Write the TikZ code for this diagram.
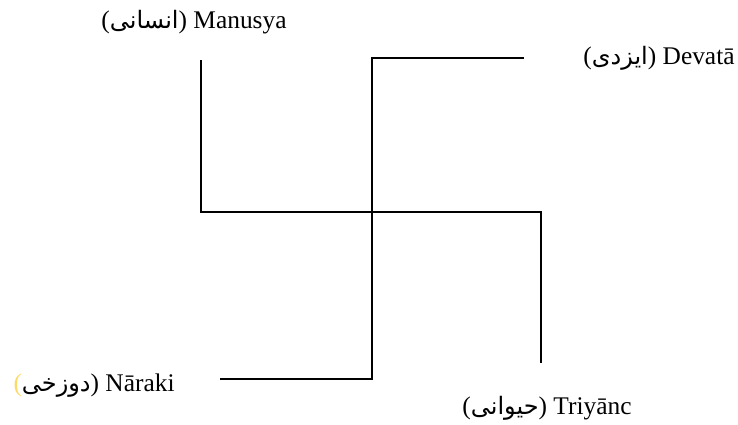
\documentclass[tikz,border=0pt]{standalone}
\usepackage{fontspec}
\setmainfont{Liberation Serif}
\newfontfamily\arabicfont[Script=Arabic]{DejaVu Sans}
\TeXXeTstate=1

\begin{document}
\begin{tikzpicture}[
  x=0.5pt, y=-0.5pt,
  font=\fontsize{12.7}{15}\selectfont,
  arm/.style={line width=1pt, line cap=rect},
  lbl/.style={inner sep=0pt, anchor=east}
]
  \definecolor{parenyellow}{HTML}{FFD966}
  \useasboundingbox (0,0) rectangle (738,424);

  % ================= ARMS =================
  \coordinate (mid) at (372,212);
  \coordinate (tl) at (201,61);
  \coordinate (tr) at (523,58);
  \coordinate (br) at (541,362);
  \coordinate (bl) at (221,379);

  \draw[arm] (tl) -- (tl |- mid) -- (br |- mid) -- (br);
  \draw[arm] (tr) -- (mid |- tr) -- (mid |- bl) -- (bl);

  % ================= LABELS =================
  \node[lbl] (manusya) at (287,22)
    {({\arabicfont\fontsize{12}{15}\selectfont\beginR انسانی\endR}) Manusya};
  \node[lbl] (devata) at (735,58)
    {({\arabicfont\fontsize{12}{15}\selectfont\beginR ایزدی\endR}) Devatā};
  \node[lbl] (naraki) at (175,386)
    {{\color{parenyellow}(}{\arabicfont\fontsize{12}{15}\selectfont\beginR دوزخی\endR}) Nāraki};
  \node[lbl] (triyanc) at (632,408)
    {({\arabicfont\fontsize{12}{15}\selectfont\beginR حیوانی\endR}) Triyānc};
\end{tikzpicture}
\end{document}
